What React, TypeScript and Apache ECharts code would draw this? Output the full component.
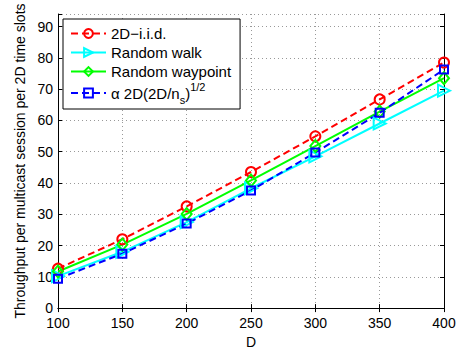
import React, { useEffect, useRef } from "react";
import * as echarts from "echarts";

const xValues = [100, 150, 200, 250, 300, 350, 400];
const iid = [12.6, 22.0, 32.5, 43.5, 54.9, 66.7, 78.5];
const walk = [10.2, 18.0, 27.5, 38.3, 48.5, 59.0, 69.5];
const waypoint = [11.7, 20.3, 30.1, 40.8, 51.8, 62.8, 73.5];
const alpha = [9.4, 17.4, 27.0, 37.6, 49.7, 62.4, 76.3];

const seriesNames = ["2D\u2212i.i.d.", "Random walk", "Random waypoint", "alpha"];
const yTitle = "Throughput per multicast session per 2D time slots";
const xTitle = "D";

const FONT = "Liberation Sans, Arial, Helvetica, sans-serif";

function pairs(vals: number[]) {
  return xValues.map((x, i) => [x, vals[i]]);
}

export default function App() {
  const ref = useRef<HTMLDivElement>(null);
  useEffect(() => {
    if (!ref.current) return;
    const chart = echarts.init(ref.current, undefined, { renderer: "svg" });
    const axisCommon = {
      axisLine: { show: true, lineStyle: { color: "#000", width: 1 } },
      axisTick: { show: true, inside: true, length: 4, lineStyle: { color: "#000" } },
    };
    chart.setOption({
      animation: false,
      backgroundColor: "#fff",
      textStyle: { fontFamily: FONT },
      grid: { left: 58, right: 19, top: 14, bottom: 36, containLabel: false },
      legend: {
        orient: "vertical",
        left: 63,
        top: 19,
        padding: [5, 9, 4, 7],
        borderColor: "#000",
        borderWidth: 1,
        backgroundColor: "#fff",
        itemWidth: 35,
        itemHeight: 11,
        itemGap: 0,
        data: seriesNames,
        textStyle: {
          fontFamily: FONT,
          fontSize: 15,
          color: "#000",
          lineHeight: 19,
          rich: {
            n: { fontFamily: FONT, fontSize: 15, color: "#000", lineHeight: 24 },
            sub: { fontFamily: FONT, fontSize: 11, color: "#000", lineHeight: 10, verticalAlign: "bottom" },
            sup: { fontFamily: FONT, fontSize: 11, color: "#000", lineHeight: 10, verticalAlign: "top" },
          },
        },
        formatter: (name: string) =>
          name === "alpha" ? "{n|\u03b1 2D(2D/n}{sub|s}{n|)}{sup|1/2}" : name,
      },
      xAxis: [
        {
          type: "value",
          min: 100,
          max: 400,
          interval: 50,
          name: xTitle,
          nameLocation: "middle",
          nameGap: 24,
          nameTextStyle: { fontFamily: FONT, fontSize: 14, color: "#000" },
          ...axisCommon,
          axisLabel: { fontFamily: FONT, fontSize: 14, color: "#000", margin: 8 },
          splitLine: { show: true, lineStyle: { color: "#999", type: [1, 3], width: 1 } },
        },
        {
          type: "value",
          position: "top",
          min: 100,
          max: 400,
          interval: 50,
          ...axisCommon,
          axisLabel: { show: false },
          splitLine: { show: false },
        },
      ],
      yAxis: [
        {
          type: "value",
          min: 0,
          max: 94,
          interval: 10,
          name: yTitle,
          nameLocation: "middle",
          nameGap: 29,
          nameTextStyle: { fontFamily: FONT, fontSize: 14, color: "#000" },
          ...axisCommon,
          axisLabel: {
            fontFamily: FONT,
            fontSize: 14,
            color: "#000",
            margin: 5,
            formatter: (v: number) => (v % 10 === 0 ? String(v) : ""),
          },
          splitLine: { show: true, lineStyle: { color: "#999", type: [1, 3], width: 1 } },
        },
        {
          type: "value",
          position: "right",
          min: 0,
          max: 94,
          interval: 10,
          ...axisCommon,
          axisLabel: { show: false },
          splitLine: { show: false },
        },
      ],
      series: [
        {
          name: seriesNames[0],
          type: "line",
          data: pairs(iid),
          symbol: "circle",
          symbolSize: 10,
          lineStyle: { color: "#ff0000", width: 2, type: [7, 4] },
          itemStyle: { color: "rgba(0,0,0,0)", borderColor: "#ff0000", borderWidth: 2 },
        },
        {
          name: seriesNames[1],
          type: "line",
          data: pairs(walk),
          symbol: "triangle",
          symbolRotate: -90,
          symbolSize: 12,
          lineStyle: { color: "#00ffff", width: 2 },
          itemStyle: { color: "rgba(0,0,0,0)", borderColor: "#00ffff", borderWidth: 2 },
        },
        {
          name: seriesNames[2],
          type: "line",
          data: pairs(waypoint),
          symbol: "diamond",
          symbolSize: [10, 12],
          lineStyle: { color: "#00ff00", width: 2 },
          itemStyle: { color: "rgba(0,0,0,0)", borderColor: "#00ff00", borderWidth: 2 },
        },
        {
          name: seriesNames[3],
          type: "line",
          data: pairs(alpha),
          symbol: "rect",
          symbolSize: 8,
          lineStyle: { color: "#0000ff", width: 2, type: [7, 4] },
          itemStyle: { color: "rgba(0,0,0,0)", borderColor: "#0000ff", borderWidth: 2 },
        },
      ],
    });
    return () => chart.dispose();
  }, []);
  return <div ref={ref} style={{ width: 463, height: 354, position: "absolute", left: 0, top: 0 }} />;
}
